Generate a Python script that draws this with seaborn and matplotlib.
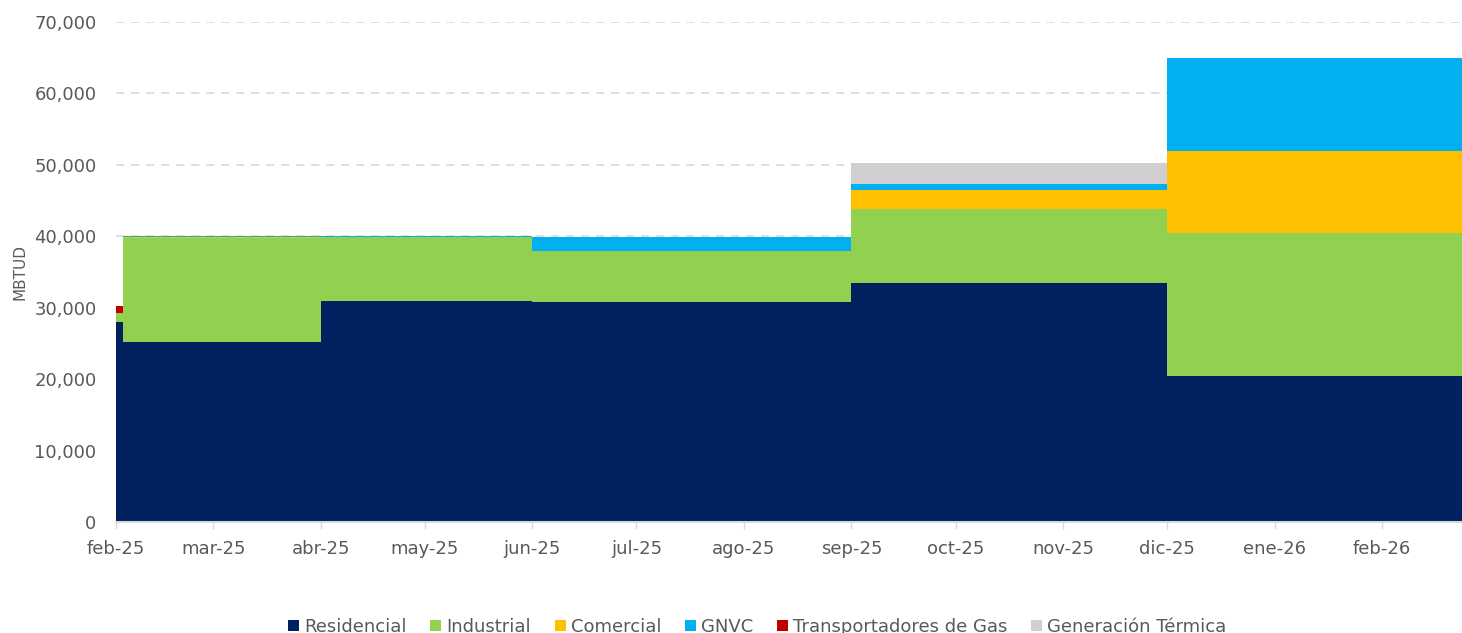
import pandas as pd
import numpy as np
import matplotlib.pyplot as plt
import matplotlib.dates as mdates
import matplotlib.ticker as mticker
import seaborn as sns

# step breakpoints (value holds until the next date)
dates = ["2025-02-01", "2025-02-03", "2025-04-01", "2025-06-01", "2025-09-01", "2025-12-01", "2026-02-24"]
residencial = [28000, 25200, 31000, 30800, 33400, 20400, 20400]
industrial = [1300, 14550, 8900, 7150, 10400, 20000, 20000]
comercial = [0, 150, 0, 0, 2650, 11500, 11500]
gnvc = [0, 100, 100, 2000, 850, 13000, 13000]
transportadores = [900, 0, 0, 0, 0, 0, 0]
gen_termica = [0, 0, 0, 0, 2900, 0, 0]

labels = ["Residencial", "Industrial", "Comercial", "GNVC", "Transportadores de Gas", "Generación Térmica"]
colors = ["#002060", "#92D050", "#FFC000", "#00B0F0", "#C00000", "#D0CECE"]

df = pd.DataFrame({
    "fecha": pd.to_datetime(dates),
    "Residencial": residencial,
    "Industrial": industrial,
    "Comercial": comercial,
    "GNVC": gnvc,
    "Transportadores de Gas": transportadores,
    "Generación Térmica": gen_termica,
})

sns.set_theme(style="white")
plt.rcParams["font.family"] = ["DejaVu Sans"]

fig = plt.figure(figsize=(14.62, 6.33), dpi=100)
ax = fig.add_axes([116 / 1462, 111 / 633, 1346 / 1462, 500 / 633])

ax.stackplot(df["fecha"], *[df[c] for c in labels], labels=labels,
             colors=colors, step="post", linewidth=0)

ax.set_ylim(0, 70000)
ax.set_xlim(pd.Timestamp("2025-02-01"), pd.Timestamp("2026-02-24"))
ax.yaxis.set_major_locator(mticker.MultipleLocator(10000))
ax.yaxis.set_major_formatter(mticker.FuncFormatter(lambda v, p: f"{int(v):,}"))
ax.xaxis.set_major_locator(mdates.MonthLocator())
meses = ["ene", "feb", "mar", "abr", "may", "jun", "jul", "ago", "sep", "oct", "nov", "dic"]
ax.xaxis.set_major_formatter(mticker.FuncFormatter(
    lambda v, p: f"{meses[mdates.num2date(v).month - 1]}-{mdates.num2date(v).strftime('%y')}"))

for yv in range(10000, 70001, 10000):
    ax.axhline(yv, color="#D9D9D9", linestyle=(0, (5, 4)), linewidth=1.2, zorder=0)

for s in ["top", "right", "left"]:
    ax.spines[s].set_visible(False)
ax.spines["bottom"].set_color("#D9D9D9")
ax.spines["bottom"].set_linewidth(1.5)

ax.tick_params(axis="x", colors="#595959", labelsize=13, length=5, width=1, direction="out",
               color="#D9D9D9", pad=8)
ax.tick_params(axis="y", colors="#595959", labelsize=13, length=0, pad=14)
ax.tick_params(axis="x", bottom=True)
for t in ax.get_xticklabels() + ax.get_yticklabels():
    t.set_color("#595959")

ax.set_ylabel("MBTUD", color="#595959", fontsize=11, labelpad=5)

handles, lbls = ax.get_legend_handles_labels()
fig.legend(handles, lbls, loc="lower center", bbox_to_anchor=(0.518, -0.03), ncol=6,
           frameon=False, fontsize=13, handlelength=0.6, handleheight=0.6,
           handletextpad=0.3, columnspacing=1.3, labelcolor="#595959")

fig.savefig("out.png", dpi=100)
